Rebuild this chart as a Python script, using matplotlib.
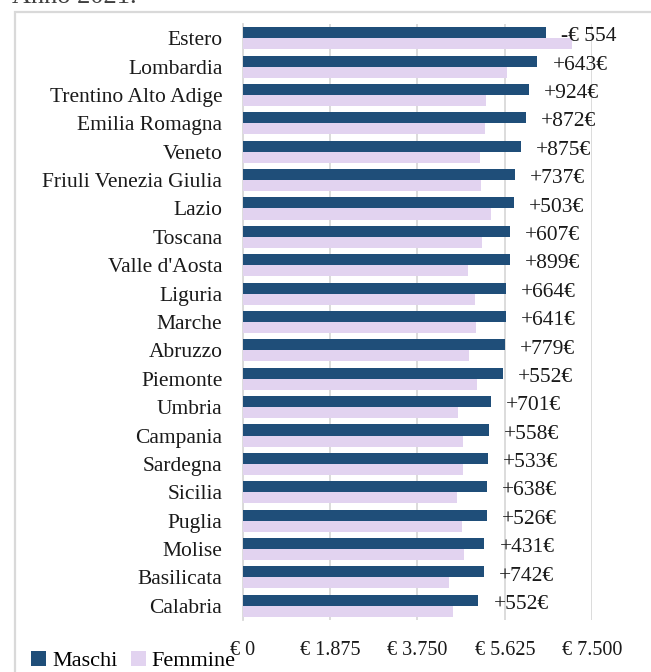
import matplotlib
matplotlib.use("Agg")
import matplotlib.pyplot as plt
from matplotlib.patches import Rectangle

regions = ["Estero", "Lombardia", "Trentino Alto Adige", "Emilia Romagna", "Veneto",
           "Friuli Venezia Giulia", "Lazio", "Toscana", "Valle d'Aosta", "Liguria",
           "Marche", "Abruzzo", "Piemonte", "Umbria", "Campania", "Sardegna",
           "Sicilia", "Puglia", "Molise", "Basilicata", "Calabria"]
maschi = [6504, 6318, 6133, 6075, 5968, 5840, 5818, 5732, 5732, 5647,
          5647, 5625, 5582, 5325, 5282, 5261, 5240, 5240, 5182, 5175, 5053]
femmine = [7058, 5675, 5209, 5203, 5093, 5103, 5315, 5125, 4833, 4983,
           5006, 4846, 5030, 4624, 4724, 4728, 4602, 4714, 4751, 4433, 4501]
diff_labels = ["-€ 554", "+643€", "+924€", "+872€", "+875€", "+737€", "+503€", "+607€",
               "+899€", "+664€", "+641€", "+779€", "+552€", "+701€", "+558€", "+533€",
               "+638€", "+526€", "+431€", "+742€", "+552€"]
xticks = [0, 1875, 3750, 5625, 7500]
xtick_labels = ["€ 0", "€ 1.875", "€ 3.750", "€ 5.625", "€ 7.500"]

W, H = 651, 672
fig = plt.figure(figsize=(W / 100, H / 100), dpi=100)
serif = ["Liberation Serif", "DejaVu Serif"]
plt.rcParams['font.family'] = serif

C_M = "#1F4E79"
C_F = "#E2D3F0"
GRID = "#D9D9D9"

# outer chart border
fig.patches.append(Rectangle((15 / W, -0.1), 1.2, 1 - 12 / H + 0.1, transform=fig.transFigure,
                             fill=False, edgecolor=GRID, linewidth=1.6))
fig.text(12 / W, 1 - 3 / H, "Anno 2021.", fontsize=19, color="#404040", va="baseline", ha="left")

ax = fig.add_axes([242.5 / W, 1 - 620 / H, 350 / W, 596 / H])
n = len(regions)
pos = list(range(n))
h = 0.39
ax.barh([p - h / 2 for p in pos], maschi, height=h, color=C_M, label="Maschi", zorder=3)
ax.barh([p + h / 2 for p in pos], femmine, height=h, color=C_F, label="Femmine", zorder=3)

for p, m, lab in zip(pos, maschi, diff_labels):
    ax.annotate(lab, (m, p - h / 2), xytext=(11, -3), textcoords="offset points",
                ha="left", va="center", fontsize=15.5, color="#1a1a1a", zorder=4)

ax.set_xlim(0, 7500)
ax.set_ylim(n - 0.5, -0.5)
ax.set_yticks(pos)
ax.set_yticklabels(regions, fontsize=15.5)
ax.set_xticks(xticks)
ax.set_xticklabels(xtick_labels, fontsize=14.5)
ax.tick_params(axis="both", length=0, colors="#1a1a1a")
ax.tick_params(axis="y", pad=14.5)
ax.tick_params(axis="x", pad=15)
ax.grid(axis="x", color=GRID, linewidth=1.3, zorder=0)
for s in ["top", "right", "bottom"]:
    ax.spines[s].set_visible(False)
ax.spines["left"].set_color(GRID)
ax.spines["left"].set_linewidth(1.3)

fig.legend(loc="lower left", bbox_to_anchor=(22 / W, -8 / H), ncol=2, frameon=False,
           fontsize=16, handlelength=0.7, handleheight=0.7, handletextpad=0.25,
           columnspacing=0.6, borderaxespad=0)

fig.savefig("out.png", dpi=100)
